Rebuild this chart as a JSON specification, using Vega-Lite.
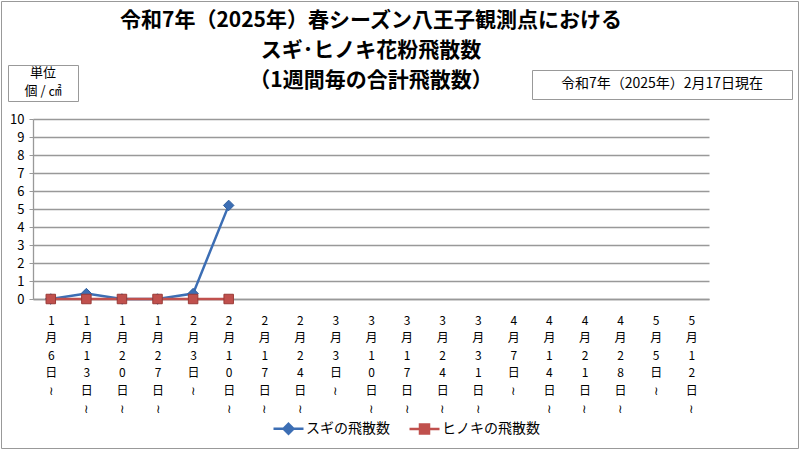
{
  "$schema": "https://vega.github.io/schema/vega-lite/v6.json",
  "width": 676,
  "height": 180,
  "autosize": {"type": "none"},
  "padding": {"left": 33, "top": 119, "right": 91, "bottom": 151},
  "background": "white",
  "config": {"view": {"stroke": null}, "font": "Noto Sans CJK JP"},
  "title": {
    "text": ["令和7年（2025年）春シーズン八王子観測点における", "スギ･ヒノキ花粉飛散数", "（1週間毎の合計飛散数）"],
    "fontSize": 21,
    "fontWeight": "bold",
    "font": "Noto Sans CJK JP",
    "lineHeight": 30,
    "anchor": "middle",
    "offset": -90,
    "color": "black"
  },
  "datasets": {
    "pollen": [
      {"week": "1月6日～", "series": "スギの飛散数", "value": 0},
      {"week": "1月13日～", "series": "スギの飛散数", "value": 0.3},
      {"week": "1月20日～", "series": "スギの飛散数", "value": 0},
      {"week": "1月27日～", "series": "スギの飛散数", "value": 0},
      {"week": "2月3日～", "series": "スギの飛散数", "value": 0.3},
      {"week": "2月10日～", "series": "スギの飛散数", "value": 5.2},
      {"week": "1月6日～", "series": "ヒノキの飛散数", "value": 0},
      {"week": "1月13日～", "series": "ヒノキの飛散数", "value": 0},
      {"week": "1月20日～", "series": "ヒノキの飛散数", "value": 0},
      {"week": "1月27日～", "series": "ヒノキの飛散数", "value": 0},
      {"week": "2月3日～", "series": "ヒノキの飛散数", "value": 0},
      {"week": "2月10日～", "series": "ヒノキの飛散数", "value": 0}
    ],
    "notes": [
      {"u": "a", "d": "a", "f": "a"},
      {"u": "b", "d": "b", "f": "b"},
      {"u": "a", "d": "a", "f": "c"},
      {"u": "b", "d": "b", "f": "d"}
    ]
  },
  "layer": [
    {
      "data": {"name": "pollen"},
      "layer": [
        {
          "mark": {"type": "line", "strokeWidth": 2.5},
          "encoding": {
            "color": {
              "field": "series", "type": "nominal",
              "scale": {"domain": ["スギの飛散数", "ヒノキの飛散数"], "range": ["#3c6eb4", "#c0504d"]},
              "legend": {
                "orient": "none", "legendX": 239, "legendY": 293, "direction": "horizontal",
                "title": null, "symbolSize": 900, "labelFontSize": 14, "labelColor": "black",
                "columnPadding": 14, "labelOffset": 1, "symbolStrokeWidth": 2.5,
                "encode": {
                  "symbols": {
                    "update": {
                      "shape": {"signal": "datum.value === 'スギの飛散数' ? 'M-1,0H1M0,-0.33L0.33,0L0,0.33L-0.33,0Z' : 'M-1,0H1M-0.3,-0.3H0.3V0.3H-0.3Z'"},
                      "stroke": {"signal": "datum.value === 'スギの飛散数' ? '#3c6eb4' : '#c0504d'"},
                      "fill": {"signal": "datum.value === 'スギの飛散数' ? '#3c6eb4' : '#c0504d'"},
                      "strokeWidth": {"value": 2.5},
                      "size": {"value": 900},
                      "opacity": {"value": 1}
                    }
                  }
                }
              }
            }
          }
        },
        {
          "transform": [{"filter": "datum.series === 'スギの飛散数'"}],
          "mark": {"type": "point", "filled": true, "shape": "diamond", "size": 110, "fill": "#3c6eb4", "stroke": "#2f5f9e", "strokeWidth": 1, "opacity": 1}
        },
        {
          "transform": [{"filter": "datum.series === 'ヒノキの飛散数'"}],
          "mark": {"type": "point", "filled": true, "shape": "square", "size": 90, "fill": "#c0504d", "stroke": "#9b3a36", "strokeWidth": 1, "opacity": 1}
        }
      ],
      "encoding": {
        "x": {
          "field": "week", "type": "nominal", "sort": null,
          "scale": {"type": "point", "padding": 0.5, "domain": ["1月6日～","1月13日～","1月20日～","1月27日～","2月3日～","2月10日～","2月17日～","2月24日～","3月3日～","3月10日～","3月17日～","3月24日～","3月31日～","4月7日～","4月14日～","4月21日～","4月28日～","5月5日～","5月12日～"]},
          "axis": {
            "title": null, "labelAngle": 0, "ticks": false,
            "labelExpr": "split(replace(datum.label, '～', '≀'), '')",
            "labelLineHeight": 17.6, "labelFontSize": 12, "labelColor": "black",
            "labelPadding": 16, "labelOverlap": false, "labelBound": false,
            "domainColor": "#999", "domainWidth": 1.3, "grid": false
          }
        },
        "y": {
          "field": "value", "type": "quantitative",
          "scale": {"domain": [0, 10], "nice": false},
          "axis": {
            "title": null, "values": [0,1,2,3,4,5,6,7,8,9,10], "labelOverlap": false,
            "labelFontSize": 13, "labelColor": "black", "labelPadding": 5,
            "tickSize": 4, "tickColor": "#999", "domainColor": "#999", "domainWidth": 1.3,
            "gridColor": "#999", "gridWidth": 1.3
          }
        }
      }
    },
    {
      "data": {"name": "notes"},
      "mark": {"type": "point", "size": 0},
      "encoding": {
        "fill": {
          "field": "u", "type": "nominal",
          "scale": {"range": ["transparent", "transparent"]},
          "legend": {
            "orient": "none", "legendX": -25, "legendY": -54, "direction": "horizontal",
            "title": ["単位", "個 / ㎠"], "titleFontSize": 13, "titleFontWeight": "normal",
            "titleColor": "black", "titleAlign": "center", "titleAnchor": "middle", "titleLineHeight": 18,
            "titlePadding": 0, "titleLimit": 300, "labelExpr": "''", "symbolSize": 0, "symbolOpacity": 0,
            "symbolStrokeWidth": 0, "labelFontSize": 1, "columnPadding": 64, "labelOffset": 0,
            "padding": 2, "strokeColor": "#999", "fillColor": "white"
          }
        },
        "strokeDash": {
          "field": "d", "type": "nominal",
          "legend": {
            "orient": "none", "legendX": 499, "legendY": -49, "direction": "horizontal",
            "title": "令和7年（2025年）2月17日現在", "titleFontSize": 14, "titleFontWeight": "normal",
            "titleColor": "black", "titleAlign": "center", "titleAnchor": "middle", "titleLimit": 400,
            "titlePadding": 0, "labelExpr": "''", "symbolSize": 0, "symbolOpacity": 0, "symbolStrokeWidth": 0,
            "labelFontSize": 1, "columnPadding": 244, "labelOffset": 0,
            "padding": 7, "strokeColor": "#999", "fillColor": "white"
          }
        },
        "shape": {
          "field": "f", "type": "nominal",
          "legend": {
            "orient": "none", "legendX": -32, "legendY": -118, "direction": "horizontal", "columns": 2,
            "title": null, "labelExpr": "''", "symbolSize": 0, "symbolOpacity": 0, "symbolStrokeWidth": 0,
            "labelFontSize": 1, "columnPadding": 795, "rowPadding": 444, "labelOffset": 0,
            "padding": 0, "strokeColor": "#999"
          }
        }
      }
    }
  ]
}
